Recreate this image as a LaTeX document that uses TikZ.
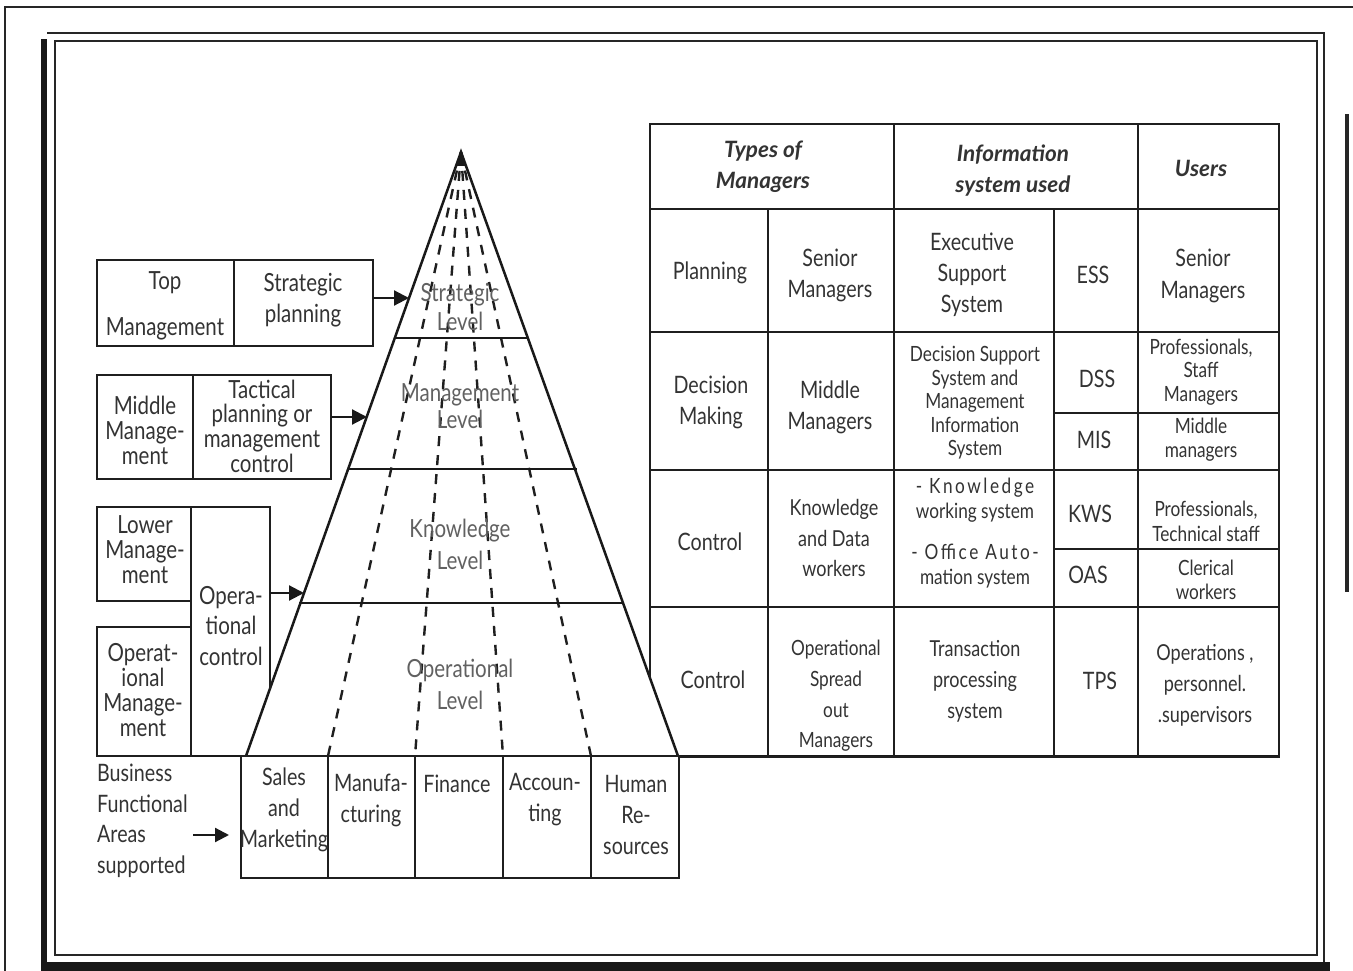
\documentclass[tikz,border=0pt]{standalone}
\usepackage{fontspec}
\setmainfont{Lato}
\newfontfamily\cf[FakeStretch=0.82]{Lato}
\newfontfamily\cfs[FakeStretch=0.82,LetterSpace=12]{Lato}
\usetikzlibrary{arrows.meta,calc}

\begin{document}
\begin{tikzpicture}[x=1pt,y=-1pt,
  ln/.style={draw=black!88,line width=2pt},
  pyr/.style={draw=black!90,line width=2.5pt},
  dsh/.style={draw=black!88,line width=2.4pt,dash pattern=on 10pt off 9pt},
  ft/.style 2 args={font=\cf\fontsize{#1}{#2}\selectfont},
  tx/.style={text=black!80,align=center,inner sep=0pt},
  lvl/.style={text=black!62,align=center,inner sep=0pt},
  hd/.style={text=black!80,align=center,inner sep=0pt,font=\bfseries\itshape\fontsize{22.5}{31}\selectfont},
  arr/.style={draw=black!90,line width=2.2pt,-{Triangle[length=15pt,width=15pt]}},
]
\useasboundingbox (0,0) rectangle (1353,971);
\fill[white] (0,0) rectangle (1353,971);

% ---------- page frame ----------
\draw[black!85,line width=1.5pt] (5,971) -- (5,7) -- (1353,7);
\fill[black!85] (1345,114) rectangle (1349,592);
\fill[black!90] (41,39) rectangle (47,971);
\fill[black!90] (41,962) rectangle (1330,971);
\draw[black!85,line width=2pt] (47,33) -- (1324,33) -- (1324,962);
\draw[black!85,line width=1.8pt] (55,41) rectangle (1317,955);

% ---------- pyramid ----------
\coordinate (apex) at (461,152);
\coordinate (bl) at (246,756);
\coordinate (br) at (678,756);
\coordinate (d1) at (328,756);
\coordinate (d2) at (415,756);
\coordinate (d3) at (503,756);
\coordinate (d4) at (591,756);
\foreach \d in {d1,d2,d3,d4} \draw[dsh] (apex) -- (\d);
\fill[black!90] (461,150) -- (456,166) -- (466,166) -- cycle;
\draw[pyr] (bl) -- (apex) -- (br);
\draw[pyr] (395,338) -- (528,338);
\draw[pyr] (347,469) -- (577,469);
\draw[pyr] (299,603) -- (622,603);
\draw[pyr] (97,756) -- (1279,756);

\node[lvl,ft={25}{29}] (lstr) at (460,307) {Strategic\\Level};
\node[lvl,ft={25}{27}] (lman) at (460,406) {Management\\Level};
\node[lvl,ft={25}{32}] (lknw) at (460,544) {Knowledge\\Level};
\node[lvl,ft={25}{32}] (lops) at (460,684) {Operational\\Level};

% ---------- management boxes on the left ----------
\draw[ln] (97,260) rectangle (373,346);
\draw[ln] (234,260) -- (234,346);
\draw[ln] (97,375) rectangle (331,479);
\draw[ln] (193,375) -- (193,479);
\draw[ln] (97,507) rectangle (191,601);
\draw[ln] (191,507) -- (270,507) -- (270,689);
\draw[ln] (191,601) -- (191,756);
\draw[ln] (97,627) rectangle (191,756);

\node[tx,ft={25}{25}] (top) at (165,283) {Top};
\node[tx,ft={25}{25}] (topm) at (165,329) {Management};
\node[tx,ft={25}{31}] (strp) at (303,300) {Strategic\\planning};
\node[tx,ft={25}{25}] (midm) at (145,430) {Middle\\Manage-\\ment};
\node[tx,ft={25}{24.7}] (tact) at (262,426) {Tactical\\planning or\\management\\control};
\node[tx,ft={25}{25}] (lowm) at (145,550) {Lower\\Manage-\\ment};
\node[tx,ft={25}{30.5}] (opc) at (231,626) {Opera-\\tional\\control};
\node[tx,ft={25}{25}] (opm) at (143,690) {Operat-\\ional\\Manage-\\ment};

\coordinate (a1s) at (373,298);  \coordinate (a1e) at (409,298);
\coordinate (a2s) at (331,417);  \coordinate (a2e) at (367,417);
\coordinate (a3s) at (270,593);  \coordinate (a3e) at (304,593);
\draw[arr] (a1s) -- (a1e);
\draw[arr] (a2s) -- (a2e);
\draw[arr] (a3s) -- (a3e);

% ---------- business functional areas ----------
\node[tx,ft={24}{30.5},align=left,anchor=west] (bfa) at (97,821) {Business\\Functional\\Areas\\supported};
\coordinate (a4s) at (193,835);  \coordinate (a4e) at (229,835);
\draw[arr,-{Triangle[length=14pt,width=14pt]}] (a4s) -- (a4e);

\draw[ln] (241,756) rectangle (679,878);
\foreach \x in {328,415,503,591} \draw[ln] (\x,756) -- (\x,878);
\node[tx,ft={24}{31}] (sal) at (284,810) {Sales\\and\\Marketing};
\node[tx,ft={24}{31}] (man) at (371,800) {Manufa-\\cturing};
\node[tx,ft={24}{31}] (fin) at (457,784) {Finance};
\node[tx,ft={24}{31}] (acc) at (545,800) {Accoun-\\ting};
\node[tx,ft={24}{31}] (hum) at (636,815) {Human\\Re-\\sources};

% ---------- table ----------
\draw[ln] (650,678) -- (650,124) -- (1279,124) -- (1279,757) -- (678,757);
\draw[ln] (650,209) -- (1279,209);
\foreach \y in {332,470,607} \draw[ln] (650,\y) -- (1279,\y);
\foreach \x in {894,1138} \draw[ln] (\x,124) -- (\x,757);
\foreach \x in {768,1054} \draw[ln] (\x,209) -- (\x,757);
\draw[ln] (1054,413) -- (1279,413);
\draw[ln] (1054,549) -- (1279,549);

\node[hd] (h1) at (763,167) {Types of\\Managers};
\node[hd] (h2) at (1013,171) {Information\\system used};
\node[hd] (h3) at (1201,168) {Users};

\node[tx,ft={24}{31}] (r1a) at (710,273) {Planning};
\node[tx,ft={24}{31}] (r1b) at (830,275) {Senior\\Managers};
\node[tx,ft={24}{31}] (r1c) at (972,275) {Executive\\Support\\System};
\node[tx,ft={24}{31}] (r1d) at (1093,275) {ESS};
\node[tx,ft={24}{32}] (r1e) at (1203,276) {Senior\\Managers};

\node[tx,ft={24}{31}] (r2a) at (711,402) {Decision\\Making};
\node[tx,ft={24}{31}] (r2b) at (830,407) {Middle\\Managers};
\node[tx,ft={21}{23.5}] (r2c) at (975,403) {Decision Support\\System and\\Management\\Information\\System};
\node[tx,ft={24}{31}] (r2d) at (1097,379) {DSS};
\node[tx,ft={24}{31}] (r2e) at (1094,440) {MIS};
\node[tx,ft={21}{23.5}] (r2f) at (1201,372) {Professionals,\\Staff\\Managers};
\node[tx,ft={21}{24}] (r2g) at (1201,440) {Middle\\managers};

\node[tx,ft={24}{31}] (r3a) at (710,542) {Control};
\node[tx,ft={22}{30.5}] (r3b) at (834,538) {Knowledge\\and Data\\workers};
\node[tx,ft={21}{25}] (r3c) at (975,500) {{\cfs - Knowledge}\\working system};
\node[tx,ft={21}{25}] (r3d) at (975,566) {{\cfs - Office Auto-}\\mation system};
\node[tx,ft={24}{31}] (r3e) at (1090,514) {KWS};
\node[tx,ft={24}{31}] (r3f) at (1088,575) {OAS};
\node[tx,ft={21}{25}] (r3g) at (1206,521) {Professionals,\\Technical staff};
\node[tx,ft={21}{24}] (r3h) at (1206,580) {Clerical\\workers};

\node[tx,ft={24}{31}] (r4a) at (713,680) {Control};
\node[tx,ft={21}{30.7}] (r4b) at (836,696) {Operational\\Spread\\out\\Managers};
\node[tx,ft={22}{31}] (r4c) at (975,681) {Transaction\\processing\\system};
\node[tx,ft={24}{31}] (r4d) at (1100,681) {TPS};
\node[tx,ft={22}{31}] (r4e) at (1205,685) {Operations ,\\personnel.\\.supervisors};
\end{tikzpicture}
\end{document}
